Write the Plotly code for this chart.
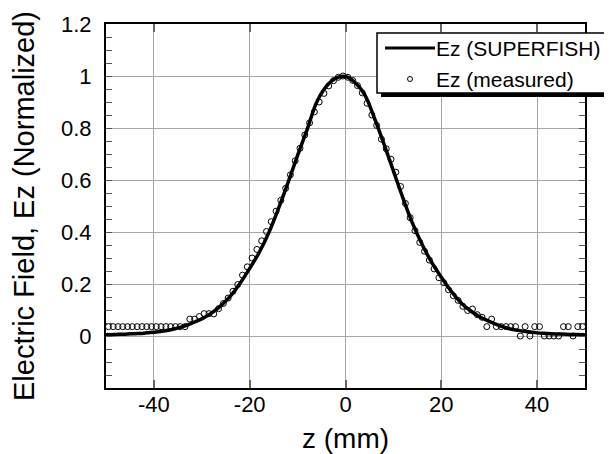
import plotly.graph_objects as go

# SUPERFISH curve (z in mm, Ez normalized)
z_sim = [-50, -48, -46, -44, -42, -40, -38, -36, -34, -32, -30, -28, -26, -24, -22, -20, -18, -16, -14, -12, -10,
         -8, -6, -4, -2, 0, 2, 4, 6, 8, 10, 12, 14, 16, 18, 20, 22, 24, 26, 28, 30, 32, 34, 36, 38, 40, 42, 44, 46, 48, 50]
ez_sim = [0.005, 0.006, 0.007, 0.009, 0.011, 0.014, 0.019, 0.026, 0.036, 0.050, 0.066, 0.088, 0.117, 0.154, 0.203,
          0.260, 0.322, 0.398, 0.490, 0.590, 0.695, 0.795, 0.900, 0.960, 0.992, 0.998, 0.975, 0.928, 0.840, 0.740,
          0.635, 0.530, 0.433, 0.352, 0.283, 0.226, 0.174, 0.130, 0.098, 0.074, 0.056, 0.041, 0.029, 0.022, 0.016,
          0.012, 0.010, 0.008, 0.0065, 0.0055, 0.005]

# measured points
z_meas = [-49.5, -48.5, -47.5, -46.5, -45.5, -44.5, -43.5, -42.5, -41.5, -40.5, -39.5, -38.5, -37.5, -36.5, -35.5,
          -34.5, -33.5, -32.5, -31.5, -30.5, -29.5, -28.5, -27.5, -26.5, -25.5, -24.5, -23.5, -22.5, -21.5, -20.5,
          -19.5, -18.5, -17.5, -16.5, -15.5, -14.5, -13.5, -12.5, -11.5, -10.5, -9.5, -8.5, -7.5, -6.5, -5.5, -4.5,
          -3.5, -2.5, -1.5, -0.5, 0.5, 1.5, 2.5, 3.5, 4.5, 5.5, 6.5, 7.5, 8.5, 9.5, 10.5, 11.5, 12.5, 13.5, 14.5,
          15.5, 16.5, 17.5, 18.5, 19.5, 20.5, 21.5, 22.5, 23.5, 24.5, 25.5, 26.5, 27.5, 28.5, 29.5, 30.5, 31.5, 32.5,
          33.5, 34.5, 35.5, 36.5, 37.5, 38.5, 39.5, 40.5, 41.5, 42.5, 43.5, 44.5, 45.5, 46.5, 47.5, 48.5, 49.5]
ez_meas = [0.036, 0.036, 0.036, 0.036, 0.036, 0.036, 0.036, 0.036, 0.036, 0.036, 0.036, 0.036, 0.036, 0.036, 0.036,
           0.036, 0.036, 0.065, 0.065, 0.075, 0.086, 0.086, 0.085, 0.105, 0.125, 0.146, 0.172, 0.198, 0.234, 0.266,
           0.300, 0.333, 0.366, 0.402, 0.440, 0.480, 0.522, 0.568, 0.620, 0.674, 0.722, 0.773, 0.820, 0.862, 0.900,
           0.933, 0.962, 0.982, 0.995, 1.000, 0.995, 0.983, 0.963, 0.935, 0.895, 0.850, 0.810, 0.757, 0.720, 0.680,
           0.630, 0.575, 0.510, 0.455, 0.405, 0.360, 0.326, 0.292, 0.258, 0.224, 0.205, 0.178, 0.155, 0.137, 0.114,
           0.098, 0.104, 0.082, 0.072, 0.036, 0.065, 0.036, 0.036, 0.036, 0.036, 0.036, 0.000, 0.036, 0.000, 0.036,
           0.036, 0.000, 0.000, 0.000, 0.000, 0.036, 0.036, 0.000, 0.036, 0.036]

x_ticks = [-40, -20, 0, 20, 40]
y_ticks = [-0.2, 0, 0.2, 0.4, 0.6, 0.8, 1, 1.2]
y_labels = ["", "0", "0.2", "0.4", "0.6", "0.8", "1", "1.2"]

FONT = "Liberation Sans, Arial, sans-serif"
OFF = 8  # page body margin that the html adds
W, H = 612 - OFF, 454 - OFF
L, R, T, B = 106 - OFF, 27, 24 - OFF, 66


def px(x, y):
    # window pixel -> paper coords (for the legend decoration)
    x, y = x - OFF, y - OFF
    return (x - L) / (W - L - R), (H - B - y) / (H - T - B)


fig = go.Figure()
fig.add_trace(go.Scatter(x=z_sim, y=ez_sim, mode="lines", name="Ez (SUPERFISH)",
                         line=dict(color="black", width=3.5, shape="spline"), showlegend=False))
fig.add_trace(go.Scatter(x=z_meas, y=ez_meas, mode="markers", name="Ez (measured)",
                         marker=dict(symbol="circle-open", size=6, color="black", line=dict(width=1)),
                         showlegend=False))

# hand-made legend box with drop shadow
x0, y0 = px(377, 33)
x1, y1 = px(608, 93)
sx0, sy0 = px(381, 37)
sx1, sy1 = px(612, 97)
shapes = [
    dict(type="rect", xref="paper", yref="paper", x0=sx0, x1=sx1, y0=sy0, y1=sy1,
         fillcolor="black", line=dict(width=0), layer="above"),
    dict(type="rect", xref="paper", yref="paper", x0=x0, x1=x1, y0=y0, y1=y1,
         fillcolor="white", line=dict(color="black", width=1.5), layer="above"),
]
lx0, ly = px(385, 48)
lx1, _ = px(435, 48)
shapes.append(dict(type="line", xref="paper", yref="paper", x0=lx0, x1=lx1, y0=ly, y1=ly,
                   line=dict(color="black", width=3), layer="above"))
cx0, cy0 = px(407.5, 76.5)
cx1, cy1 = px(412.5, 81.5)
shapes.append(dict(type="circle", xref="paper", yref="paper", x0=cx0, x1=cx1, y0=cy0, y1=cy1,
                   line=dict(color="black", width=1), layer="above"))

tx, ty1 = px(434, 48)
_, ty2 = px(434, 79)
annotations = [
    dict(x=tx, y=ty1, xref="paper", yref="paper", text="Ez (SUPERFISH)", showarrow=False,
         xanchor="left", yanchor="middle", font=dict(family=FONT, size=21, color="black")),
    dict(x=tx, y=ty2, xref="paper", yref="paper", text="Ez (measured)", showarrow=False,
         xanchor="left", yanchor="middle", font=dict(family=FONT, size=21, color="black")),
]

fig.update_layout(
    width=W, height=H,
    margin=dict(l=L, r=R, t=T, b=B),
    paper_bgcolor="white", plot_bgcolor="white",
    font=dict(family=FONT, color="black"),
    shapes=shapes, annotations=annotations,
)
fig.update_xaxes(
    range=[-50, 50], tickvals=x_ticks, ticktext=[str(v) for v in x_ticks],
    showgrid=True, gridcolor="#a6a6a6", gridwidth=1, zeroline=False, automargin=False,
    showline=True, linecolor="black", linewidth=2, mirror="ticks",
    ticks="inside", ticklen=8, tickcolor="#666666", tickwidth=2,
    tickfont=dict(size=22), ticklabelstandoff=-4,
    title=dict(text="z (mm)", font=dict(size=28), standoff=12),
)
fig.update_yaxes(
    range=[-0.2, 1.2], tickvals=y_ticks, ticktext=y_labels,
    showgrid=True, gridcolor="#a6a6a6", gridwidth=1, zeroline=False, automargin=False,
    showline=True, linecolor="black", linewidth=2, mirror="ticks",
    ticks="inside", ticklen=6, tickcolor="#555555", tickwidth=1,
    minor=dict(dtick=0.05, tick0=0, ticks="inside", ticklen=6, tickcolor="#555555", tickwidth=1, showgrid=False),
    tickfont=dict(size=22), ticklabelstandoff=8,
    title=dict(text="Electric Field, Ez (Normalized)", font=dict(size=29), standoff=20),
)

fig.write_html("out.html")
